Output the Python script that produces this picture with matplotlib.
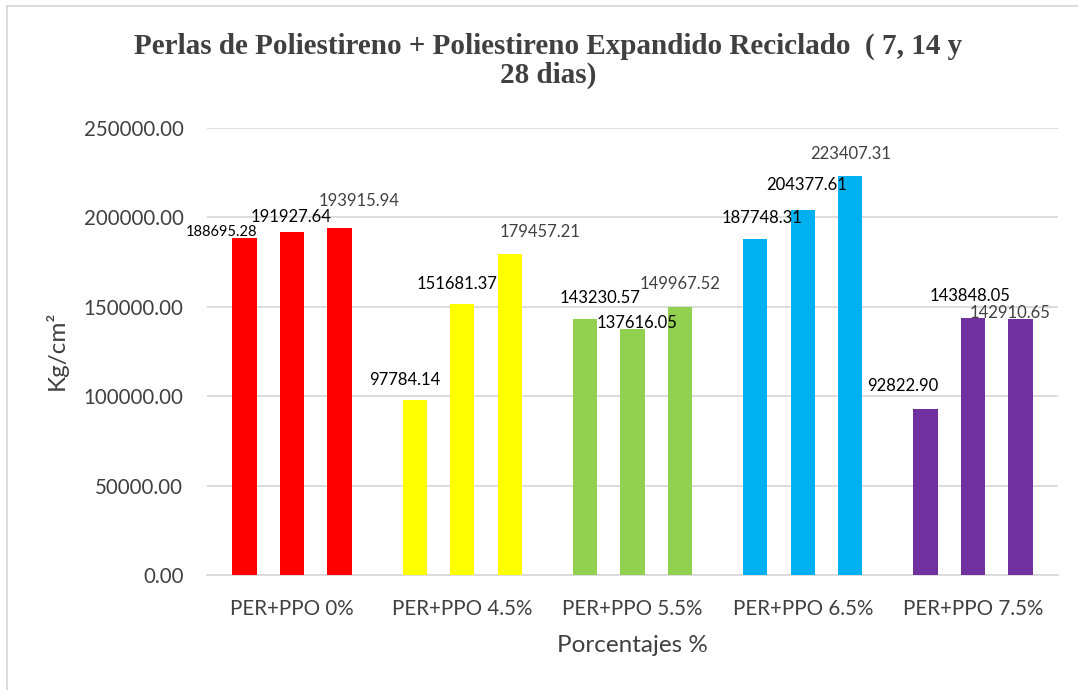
import numpy as np
import matplotlib.pyplot as plt

# Datos: resistencia a 7, 14 y 28 dias por porcentaje
categorias = ["PER+PPO 0%", "PER+PPO 4.5%", "PER+PPO 5.5%", "PER+PPO 6.5%", "PER+PPO 7.5%"]
dias_7 = [188695.28, 97784.14, 143230.57, 187748.31, 92822.90]
dias_14 = [191927.64, 151681.37, 137616.05, 204377.61, 143848.05]
dias_28 = [193915.94, 179457.21, 149967.52, 223407.31, 142910.65]
colores = ["#FF0000", "#FFFF00", "#92D050", "#00B0F0", "#7030A0"]

# desplazamiento de cada etiqueta (px) respecto a la parte superior de la barra
offsets = [
    [(-23, 6), (-1, 15), (19, 27)],
    [(-10, 20), (-5, 20), (30, 22)],
    [(15, 21), (5, 6), (0, 23)],
    [(7, 21), (4, 25), (0, 22)],
    [(-23, 23), (-3, 22), (-10, 6)],
]

W, H = 1078, 690
fig = plt.figure(figsize=(W / 100, H / 100), dpi=100)
ax = fig.add_axes([207 / W, 1 - 575 / H, (1058 - 207) / W, (575 - 128) / H])

x = np.arange(len(categorias))
sep = 0.279
ancho = 0.143
series = [dias_7, dias_14, dias_28]
for k, vals in enumerate(series):
    pos = x + (k - 1) * sep
    ax.bar(pos, vals, width=ancho, color=colores, zorder=3)
    for i, v in enumerate(vals):
        dx, dy = offsets[i][k]
        color = "#404040" if k == 2 else "black"
        size = 10.5 if (i == 0 and k == 0) else 12
        ax.annotate(f"{v:.2f}", (pos[i], v), xytext=(dx, dy),
                    textcoords="offset pixels", ha="center", va="center",
                    fontsize=size, color=color, family="Lato", zorder=4)

ax.set_xlim(-0.5, len(categorias) - 0.5)
ax.set_ylim(0, 250000)
ax.set_yticks(np.arange(0, 250001, 50000))
ax.set_yticklabels([f"{t:.2f}" for t in np.arange(0, 250001, 50000)])
ax.set_xticks(x)
ax.set_xticklabels(categorias)
ax.tick_params(length=0, labelsize=14.8, labelcolor="#404040")
ax.tick_params(axis="y", pad=17)
ax.tick_params(axis="x", pad=17)
for lbl in ax.get_xticklabels() + ax.get_yticklabels():
    lbl.set_family("Lato")

ax.grid(axis="y", color="#D9D9D9", linewidth=1.3, zorder=0)
for s in ["top", "right", "left"]:
    ax.spines[s].set_visible(False)
ax.spines["bottom"].set_color("#D9D9D9")
ax.spines["bottom"].set_linewidth(1.3)

fig.text(548 / W, 1 - 61 / H,
         "Perlas de Poliestireno + Poliestireno Expandido Reciclado  ( 7, 14 y\n28 dias)",
         ha="center", va="center", fontsize=21, fontweight="bold",
         family="Liberation Serif", color="#404040", linespacing=1.1)
fig.text(632 / W, 1 - 645 / H, "Porcentajes %", ha="center", va="center",
         fontsize=17.5, color="#404040", family="Lato")
fig.text(56 / W, 1 - 350 / H, "Kg/cm²", ha="center", va="center", rotation=90,
         fontsize=17.5, color="#404040", family="Lato")

# marco del grafico
fig.add_artist(plt.Line2D([7 / W, 7 / W], [0, 1 - 6 / H], color="#D9D9D9", lw=1.3,
                          transform=fig.transFigure))
fig.add_artist(plt.Line2D([7 / W, 1], [1 - 6 / H, 1 - 6 / H], color="#D9D9D9", lw=1.3,
                          transform=fig.transFigure))

fig.savefig("out.png", dpi=100)
plt.close(fig)
